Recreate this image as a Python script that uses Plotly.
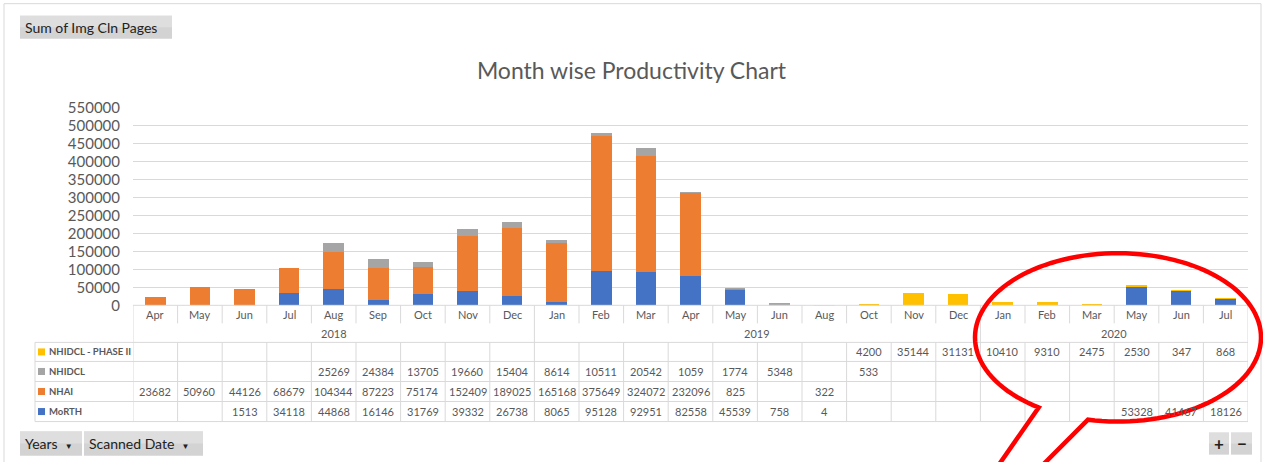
import math
import plotly.graph_objects as go

W, H = 1263, 462

years = ["2018"] * 9 + ["2019"] * 10 + ["2020"] * 6
months = ["Apr", "May", "Jun", "Jul", "Aug", "Sep", "Oct", "Nov", "Dec",
          "Jan", "Feb", "Mar", "Apr", "May", "Jun", "Aug", "Oct", "Nov", "Dec",
          "Jan", "Feb", "Mar", "May", "Jun", "Jul"]

phase2 = [None] * 16 + [4200, 35144, 31131, 10410, 9310, 2475, 2530, 347, 868]
nhidcl = [None] * 4 + [25269, 24384, 13705, 19660, 15404, 8614, 10511, 20542,
                       1059, 1774, 5348, None, 533] + [None] * 8
nhai = [23682, 50960, 44126, 68679, 104344, 87223, 75174, 152409, 189025,
        165168, 375649, 324072, 232096, 825, None, 322] + [None] * 9
morth = [None, None, 1513, 34118, 44868, 16146, 31769, 39332, 26738, 8065,
         95128, 92951, 82558, 45539, 758, 4] + [None] * 6 + [53328, 41467, 18126]

series = [("MoRTH", morth, "#4472C4"),
          ("NHAI", nhai, "#ED7D31"),
          ("NHIDCL", nhidcl, "#A5A5A5"),
          ("NHIDCL - PHASE II", phase2, "#FFC000")]

yticks = list(range(0, 550001, 50000))

FONT = "Lato"
TXT = "#595959"
GRID = "#D9D9D9"

# observed vertical mapping of the viewer: shown_y = S * page_y + B
S, B = 0.959, 9.3


def px(x):
    return x / W


def py(y):
    return 1 - ((y - B) / S) / H


xs = list(range(len(months)))
fig = go.Figure()
for name, vals, col in series:
    fig.add_trace(go.Bar(x=xs, y=vals, name=name, marker_color=col,
                         marker_line_width=0, width=0.46, hoverinfo="skip"))

shapes = []
ann = []


def text(x, y, s, size=11, xref="x", xanchor="center", color=TXT):
    ann.append(dict(x=x, y=y, xref=xref, yref="paper", text=s, showarrow=False,
                    xanchor=xanchor, yanchor="middle",
                    font=dict(family=FONT, size=size, color=color)))


def pline(x0, y0, x1, y1, color=GRID, width=1):
    shapes.append(dict(type="line", xref="paper", yref="paper", x0=px(x0), x1=px(x1),
                       y0=py(y0), y1=py(y1), line=dict(color=color, width=width)))


# outer frame
pline(4, 3, 1261, 3)
pline(4, 3, 4, 462)
pline(1261, 3, 1261, 462)

n = len(months)
shapes.append(dict(type="line", xref="x", yref="paper", x0=-0.5, x1=n - 0.5,
                   y0=py(304), y1=py(304), line=dict(color=GRID, width=1)))
for yy in [341, 360, 380, 400, 420]:
    pline(35, yy, 1248, yy)
pline(35, 341, 35, 420)
for i in range(n + 1):
    xb = i - 0.5
    full = i == 0 or i == n or (0 < i < n and years[i] != years[i - 1])
    segs = [(304, 420)] if full else [(304, 322), (341, 420)]
    for a, b in segs:
        shapes.append(dict(type="line", xref="x", yref="paper", x0=xb, x1=xb,
                           y0=py(a), y1=py(b), line=dict(color=GRID, width=1)))

for i, m in enumerate(months):
    text(i, py(313), m)
uniq = []
for y in years:
    if y not in uniq:
        uniq.append(y)
for y in uniq:
    idx = [i for i, v in enumerate(years) if v == y]
    text((idx[0] + idx[-1]) / 2, py(332), y)

row_y = {"NHIDCL - PHASE II": 350.5, "NHIDCL": 370, "NHAI": 390, "MoRTH": 410}
for name, vals, col in series:
    yc = row_y[name]
    shapes.append(dict(type="rect", xref="paper", yref="paper", x0=px(38), x1=px(45),
                       y0=py(yc - 3.5), y1=py(yc + 3.5), fillcolor=col, line_width=0))
    text(px(47), py(yc), "<b>" + name + "</b>", size=9.5, xref="paper", xanchor="left")
    for i, v in enumerate(vals):
        if v is not None:
            text(i, py(yc), str(v))


def button(x0, y0, x1, y1, label, size=14, xt=None, anchor="left"):
    shapes.append(dict(type="rect", xref="paper", yref="paper", x0=px(x0), x1=px(x1),
                       y0=py(y0), y1=py(y1), fillcolor="#D3D3D3", line_width=0))
    shapes.append(dict(type="rect", xref="paper", yref="paper", x0=px(x0), x1=px(x1),
                       y0=py(y0), y1=py((y0 + y1) / 2), fillcolor="#DEDEDE", line_width=0))
    text(px(xt if xt is not None else x0 + 3), py((y0 + y1) / 2), label, size=size,
         xref="paper", xanchor=anchor, color="#222222")


button(20, 15, 172, 38, "Sum of Img Cln Pages")
button(20, 430, 82, 454, "Years  <span style='font-size:8px'>▼</span>")
button(84, 430, 203, 454, "Scanned Date  <span style='font-size:8px'>▼</span>", xt=87)
button(1209, 431, 1229, 453, "<b>+</b>", size=17, xt=1219, anchor="center")
button(1231, 431, 1252, 453, "<b>−</b>", size=17, xt=1241.5, anchor="center")

# red callout
cx, cy, rx, ry = 1118, 336, 143, 84
tL = math.atan2(67 / ry, -76 / rx)
tR = math.atan2(82 / ry, -30 / rx) + 2 * math.pi
pts = []
steps = 120
for k in range(steps + 1):
    t = tL + (tR - tL) * k / steps
    pts.append((cx + rx * math.cos(t), cy + ry * math.sin(t)))
path = "M {:.5f},{:.5f} ".format(px(994), py(470))
for (x, y) in pts:
    path += "L {:.5f},{:.5f} ".format(px(x), py(y))
path += "L {:.5f},{:.5f}".format(px(1036), py(470))
shapes.append(dict(type="path", xref="paper", yref="paper", path=path,
                   line=dict(color="#FF0000", width=4.5)))

fig.update_layout(
    width=W, height=H, autosize=False,
    margin=dict(l=0, r=0, t=0, b=0),
    paper_bgcolor="white", plot_bgcolor="white",
    barmode="stack", showlegend=False,
    title=dict(text="Month wise Productivity Chart", x=0.5, xanchor="center",
               y=py(70), yanchor="middle", yref="paper",
               font=dict(family=FONT, size=23, color=TXT)),
    xaxis=dict(domain=[px(133), px(1248)], range=[-0.5, n - 0.5], showticklabels=False,
               showgrid=False, zeroline=False, showline=False, ticks=""),
    yaxis=dict(domain=[py(304), py(107)], range=[0, 550000], tickvals=yticks,
               tickformat="d", showgrid=True, gridcolor=GRID, gridwidth=1,
               zeroline=False, showline=False, ticks="", ticklabelstandoff=12,
               tickfont=dict(family=FONT, size=15, color=TXT)),
    shapes=shapes, annotations=ann,
)

fig.write_html("out.html", config={"displayModeBar": False},
               post_script="document.documentElement.style.margin='0';"
                           "document.documentElement.style.overflow='hidden';"
                           "document.body.style.margin='0';"
                           "document.body.style.overflow='hidden';"
                           "var gd=document.getElementById('{plot_id}');"
                           "gd.style.position='fixed';gd.style.top='0px';"
                           "gd.style.left='0px';")
